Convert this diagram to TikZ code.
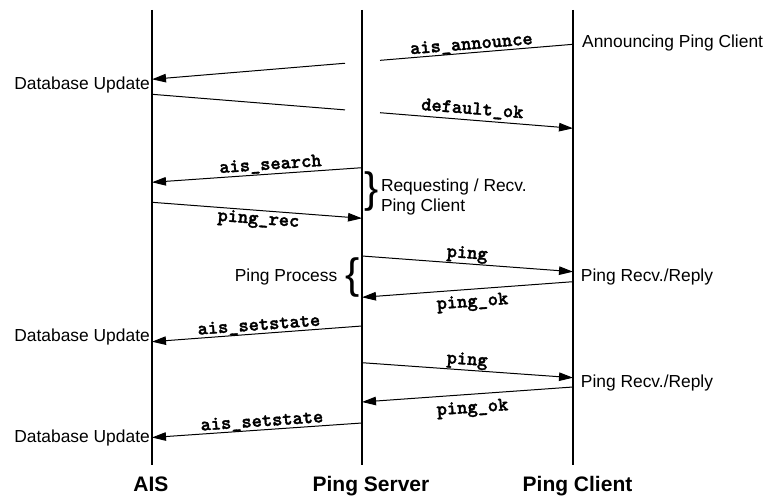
\documentclass[tikz,border=0pt]{standalone}
\usepackage{fontspec}
\setmainfont{Liberation Sans}
\newfontfamily\lblfont{lmmonolt10-bold}[Extension=.otf, FakeBold=1.6]
\usetikzlibrary{arrows.meta}
\tikzset{
  life/.style={line width=2bp},
  msg/.style={line width=1bp},
  arr/.style={msg,-{Triangle[length=14bp,width=8.5bp]}},
  lbl/.style={font=\lblfont\fontsize{19.5bp}{20bp}\selectfont, inner sep=0pt, text height=7bp, text depth=0pt, sloped},
  note/.style={font=\fontsize{17.4bp}{20bp}\selectfont, inner sep=0pt},
  actor/.style={font=\bfseries\fontsize{21bp}{24bp}\selectfont, inner sep=0pt, anchor=base},
  bracech/.style={font=\fontsize{42.5bp}{43bp}\selectfont, inner sep=0pt},
}
\begin{document}
\begin{tikzpicture}[x=1bp,y=-1bp]
\useasboundingbox (0,0) rectangle (765,496);
% lifelines
\coordinate (aisT) at (152,10); \coordinate (aisB) at (152,465);
\coordinate (psT) at (362,10);  \coordinate (psB) at (362,465);
\coordinate (pcT) at (573,10);  \coordinate (pcB) at (573,465);
\draw[life] (aisT) -- (aisB);
\draw[life] (psT) -- (psB);
\draw[life] (pcT) -- (pcB);
% message end points
\coordinate (m1s) at (573,44.3);  \coordinate (m1e) at (152,79.3);
\coordinate (m2s) at (152,94.3);  \coordinate (m2e) at (573,128.3);
\coordinate (m3s) at (362,167.7); \coordinate (m3e) at (152,182.3);
\coordinate (m4s) at (152,202.3); \coordinate (m4e) at (362,218.3);
\coordinate (m5s) at (362,256);   \coordinate (m5e) at (573,271.7);
\coordinate (m6s) at (573,281.7); \coordinate (m6e) at (362,297.3);
\coordinate (m7s) at (362,326);   \coordinate (m7e) at (152,341.7);
\coordinate (m8s) at (362,362.7); \coordinate (m8e) at (573,377.7);
\coordinate (m9s) at (573,387);   \coordinate (m9e) at (362,402);
\coordinate (m10s) at (362,423);  \coordinate (m10e) at (152,437.5);
% gaps around the Ping Server lifeline
\path (m1s) -- (m1e) coordinate[pos=0.4584] (m1g1) coordinate[pos=0.5416] (m1g2);
\path (m2s) -- (m2e) coordinate[pos=0.4584] (m2g1) coordinate[pos=0.5416] (m2g2);
% messages
\draw[msg] (m1s) -- (m1g1) node[lbl, pos=0.523, above=3bp] (l1) {ais\_announce};
\draw[arr] (m1g2) -- (m1e);
\draw[msg] (m2s) -- (m2g1);
\draw[arr] (m2g2) -- (m2e) node[lbl, pos=0.474, above=5.5bp] (l2) {default\_ok};
\draw[arr] (m3s) -- (m3e) node[lbl, pos=0.433, above=4bp] (l3) {ais\_search};
\draw[arr] (m4s) -- (m4e) node[lbl, pos=0.51, below=6bp] (l4) {ping\_rec};
\draw[arr] (m5s) -- (m5e) node[lbl, pos=0.495, above=5bp] (l5) {ping};
\draw[arr] (m6s) -- (m6e) node[lbl, pos=0.481, below=10bp] (l6) {ping\_ok};
\draw[arr] (m7s) -- (m7e) node[lbl, pos=0.488, above=3bp] (l7) {ais\_setstate};
\draw[arr] (m8s) -- (m8e) node[lbl, pos=0.495, above=5bp] (l8) {ping};
\draw[arr] (m9s) -- (m9e) node[lbl, pos=0.481, below=11bp] (l9) {ping\_ok};
\draw[arr] (m10s) -- (m10e) node[lbl, pos=0.474, above=3bp] (l10) {ais\_setstate};
% notes
\node[note, anchor=east] (du1) at (150,85.5) {Database Update};
\node[note, anchor=west] (apc) at (582,43) {Announcing Ping Client};
\node[note, anchor=west, align=left] (req) at (380.8,197.5) {Requesting / Recv.\\Ping Client};
\node[note, anchor=east] (pp) at (337.5,277) {Ping Process};
\node[note, anchor=west] (prr1) at (580.7,277) {Ping Recv./Reply};
\node[note, anchor=west] (prr2) at (580.7,383) {Ping Recv./Reply};
\node[note, anchor=east] (du2) at (150,337) {Database Update};
\node[note, anchor=east] (du3) at (150,438) {Database Update};
% braces
\node[bracech] (br1) at (372,192) {\}};
\node[bracech] (br2) at (352.5,278) {\{};
% actors
\node[actor] (lAIS) at (151,491.5) {AIS};
\node[actor] (lPS) at (371,491.5) {Ping Server};
\node[actor] (lPC) at (577.5,491.5) {Ping Client};
\end{tikzpicture}
\end{document}
